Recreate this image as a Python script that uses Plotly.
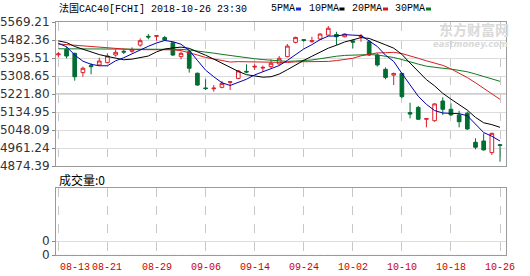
import plotly.graph_objects as go

# ---------------- data ----------------
dates = ["08-13","08-14","08-15","08-16","08-17","08-20","08-21","08-22","08-23","08-24",
         "08-27","08-28","08-29","08-30","08-31","09-03","09-04","09-05","09-06","09-07",
         "09-10","09-11","09-12","09-13","09-14","09-17","09-18","09-19","09-20","09-21",
         "09-24","09-25","09-26","09-27","09-28","10-01","10-02","10-03","10-04","10-05",
         "10-08","10-09","10-10","10-11","10-12","10-15","10-16","10-17","10-18","10-19",
         "10-22","10-23","10-24","10-25","10-26"]

opens = [5411,5437,5418,5325,5359,5362,5373,5410,5428,5428,
         5458,5500,5500,5494,5469,5402,5426,5322,5251,5247,
         5254,5278,5297,5331,5352,5347,5354,5367,5402,5471,
         5484,5474,5487,5506,5509,5498,5478,5498,5474,5410,
         5341,5313,5321,5132,5157,5100,5093,5188,5148,5121,
         5129,4989,4995,4939,4977]
highs = [5425,5450,5421,5354,5370,5397,5418,5437,5437,5447,
         5490,5511,5506,5502,5474,5426,5434,5325,5293,5265,
         5285,5282,5338,5365,5365,5359,5389,5405,5463,5498,
         5487,5498,5515,5550,5522,5515,5485,5511,5482,5418,
         5350,5325,5325,5180,5164,5103,5177,5206,5177,5141,
         5137,5008,5032,5035,4981]
lows = [5398,5394,5286,5305,5317,5360,5372,5402,5415,5421,
        5450,5486,5479,5479,5405,5389,5325,5262,5241,5233,
        5249,5241,5293,5322,5338,5330,5346,5362,5399,5466,
        5474,5470,5482,5502,5458,5495,5442,5474,5405,5354,
        5293,5265,5201,5104,5096,5061,5088,5121,5116,5061,
        5048,4955,4949,4928,4895]
closes = [5415,5405,5305,5346,5354,5381,5405,5423,5424,5437,
          5479,5497,5503,5482,5410,5418,5346,5265,5248,5250,
          5273,5281,5333,5328,5355,5350,5370,5394,5453,5495,
          5481,5479,5511,5539,5498,5511,5472,5501,5410,5362,
          5302,5321,5209,5125,5100,5103,5174,5148,5121,5088,
          5053,4965,4952,5032,4974]
volumes = [0] * 55

ma5 = [5466,5450,5410,5380,5365,5358,5358,5382,5397,5414,
       5434,5452,5468,5480,5474,5462,5432,5384,5337,5305,
       5276,5263,5277,5293,5314,5329,5347,5359,5384,5412,
       5439,5460,5484,5501,5502,5508,5506,5504,5478,5451,
       5409,5379,5321,5264,5211,5172,5142,5130,5129,5127,
       5117,5075,5036,5018,4995]
ma10 = [5478,5470,5451,5437,5424,5412,5403,5395,5387,5390,
        5396,5405,5425,5439,5444,5448,5442,5426,5409,5390,
        5369,5348,5331,5315,5310,5303,5305,5318,5339,5363,
        5384,5404,5422,5443,5457,5473,5483,5494,5490,5476,
        5459,5443,5413,5371,5331,5291,5261,5225,5197,5169,
        5144,5109,5083,5074,5061]
ma20 = [5463,5460,5456,5452,5449,5445,5442,5439,5437,5436,
        5436,5436,5437,5437,5435,5431,5422,5410,5398,5390,
        5383,5376,5378,5377,5377,5375,5374,5372,5374,5377,
        5377,5376,5376,5379,5383,5388,5394,5406,5414,5420,
        5421,5423,5417,5407,5394,5382,5372,5360,5343,5323,
        5301,5276,5248,5222,5196]
ma30 = [5440,5440,5440,5439,5439,5438,5438,5437,5437,5437,
        5437,5438,5438,5438,5438,5437,5434,5430,5425,5419,
        5413,5407,5401,5396,5392,5388,5384,5381,5379,5381,
        5383,5386,5392,5399,5404,5408,5410,5413,5412,5410,
        5404,5398,5388,5376,5366,5356,5350,5346,5342,5336,
        5329,5318,5306,5296,5283]

y_ticks = [5569.21, 5482.36, 5395.51, 5308.65, 5221.80, 5134.95, 5048.09, 4961.24, 4874.39]
tick_idx = [0, 6, 12, 18, 24, 30, 36, 42, 48, 54]
tick_labels = ["08-13","08-21","08-29","09-06","09-14","09-24","10-02","10-10","10-18","10-26"]

# ---------------- styling ----------------
W, H = 530, 276
L, R, T, B = 56, 24, 22, 21
PH = H - T - B
PW = W - L - R


def py(p):
    return (H - B - p) / PH


def px(p):
    return (p - L) / PW


RED = "#dc1e28"
GREEN = "#006e32"
MONO = "Liberation Mono, Noto Sans CJK SC, monospace"
CJK = "Noto Sans CJK SC, sans-serif"

idx = list(range(len(dates)))
xr = [-0.29, 54.73]

fig = go.Figure()

for vals, col in [(ma30, "#0f7a1e"), (ma20, "#d81e1e"), (ma10, "#000000"), (ma5, "#0000b4")]:
    fig.add_trace(go.Scatter(x=idx, y=vals, mode="lines", line=dict(color=col, width=1),
                             xaxis="x", yaxis="y", showlegend=False, hoverinfo="skip"))

fig.add_trace(go.Candlestick(
    x=idx, open=opens, high=highs, low=lows, close=closes,
    increasing=dict(line=dict(color=RED, width=1), fillcolor="white"),
    decreasing=dict(line=dict(color=GREEN, width=1), fillcolor=GREEN),
    whiskerwidth=0, xaxis="x", yaxis="y", showlegend=False))

fig.add_trace(go.Bar(x=idx, y=volumes, xaxis="x2", yaxis="y2", marker_color=GREEN,
                     showlegend=False))

main_dom = [py(166), 1.0]
vol_top = 188
vol_dom = [0.0, py(vol_top)]
vol_range = [0, (255 - vol_top) / 14.0]

axis_common = dict(range=xr, tickvals=tick_idx, showticklabels=False, showgrid=True,
                   gridcolor="#c8c8c8", griddash="dash", gridwidth=1, zeroline=False,
                   showline=True, mirror=True, linecolor="#9a9a9a", linewidth=1, ticks="",
                   fixedrange=True, automargin=False)

yaxis_common = dict(showgrid=True, gridcolor="#dcdcdc", zeroline=False, showline=True,
                    mirror=True, linecolor="#9a9a9a", ticks="outside", ticklen=3,
                    tickcolor="#888888", automargin=False,
                    tickfont=dict(family="DejaVu Sans", size=12, color="#333333"))

fig.update_layout(
    width=W, height=H, margin=dict(l=L, r=R, t=T, b=B, autoexpand=False),
    paper_bgcolor="white", plot_bgcolor="white",
    boxgap=0.36,
    xaxis=dict(domain=[0, 1], anchor="y", rangeslider=dict(visible=False), **axis_common),
    xaxis2=dict(domain=[0, 1], anchor="y2", **axis_common),
    yaxis=dict(domain=main_dom, range=[y_ticks[-1], y_ticks[0]], tickvals=y_ticks,
               ticktext=["%.2f" % v for v in y_ticks], **yaxis_common),
    yaxis2=dict(domain=vol_dom, range=vol_range, tickvals=[0, 1], ticktext=["0", "0"],
                **yaxis_common),
    showlegend=False,
)

# darker middle reference line
fig.add_shape(type="line", xref="x domain", yref="y", x0=0, x1=1, y0=y_ticks[4], y1=y_ticks[4],
              line=dict(color="#9a9a9a", width=1), layer="below")

ann = []
ann.append(dict(text="法国CAC40[FCHI] 2018-10-26 23:30", xref="paper", yref="paper",
                x=px(57), y=py(9), xanchor="left", yanchor="middle", showarrow=False,
                font=dict(family=MONO, size=10, color="#000000")))
leg = [("5PMA", 269, "#1a2fd0"), ("10PMA", 306.5, "#000000"), ("20PMA", 350, "#e0101a"),
       ("30PMA", 393, "#0f7a1e")]
for name, x0, col in leg:
    ann.append(dict(text=name, xref="paper", yref="paper", x=px(x0), y=py(9), xanchor="left",
                    yanchor="middle", showarrow=False,
                    font=dict(family=MONO, size=10, color="#000000")))
    mx = x0 + len(name) * 6 + 3
    fig.add_shape(type="rect", xref="paper", yref="paper", x0=px(mx), x1=px(mx + 5),
                  y0=py(10.5), y1=py(7.5), line=dict(width=0), fillcolor=col)

ann.append(dict(text="成交量:0", xref="paper", yref="paper", x=px(57), y=py(180),
                xanchor="left", yanchor="middle", showarrow=False,
                font=dict(family=CJK, size=12, color="#000000")))

for i, (ti, tl) in enumerate(zip(tick_idx, tick_labels)):
    ann.append(dict(text=tl, xref="x2", yref="paper", x=ti, y=py(267),
                    xanchor="left" if i == 0 else "center", yanchor="middle",
                    xshift=(-0.5 if i == 0 else 0), showarrow=False,
                    font=dict(family=MONO, size=10, color="#cc0000")))

# watermark
ann.append(dict(text="<b>东方财富网</b>", xref="paper", yref="paper", x=px(511), y=py(28.5),
                xanchor="right", yanchor="middle", showarrow=False,
                font=dict(family=CJK, size=14, color="#d9d9d9")))
ann.append(dict(text="<b><i>eastmoney.com</i></b>", xref="paper", yref="paper", x=px(510),
                y=py(44), xanchor="right", yanchor="middle", showarrow=False,
                font=dict(family="DejaVu Sans", size=8.5, color="#d9d9d9")))

fig.update_layout(annotations=ann)
fig.write_html("out.html")
